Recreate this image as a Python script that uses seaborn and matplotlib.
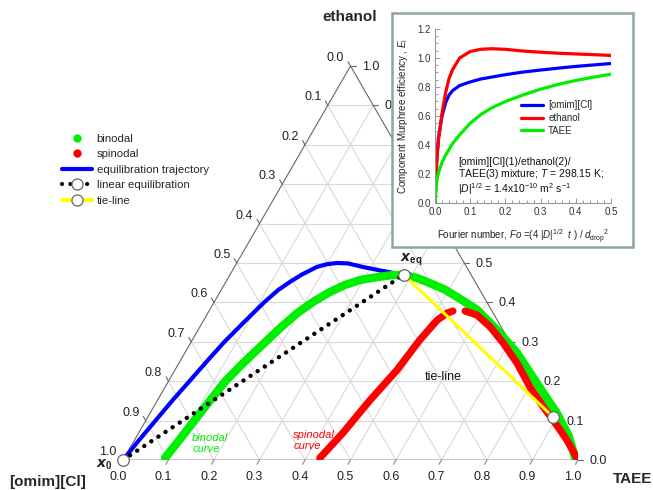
import numpy as np
import pandas as pd
import matplotlib
matplotlib.use("Agg")
import matplotlib.pyplot as plt
import seaborn as sns
from matplotlib.lines import Line2D
from matplotlib.patches import Rectangle

sns.set_style("white")
plt.rcParams["font.family"] = ["Liberation Sans", "DejaVu Sans"]
plt.rcParams["mathtext.fontset"] = "custom"
plt.rcParams["mathtext.rm"] = "Liberation Sans"
plt.rcParams["mathtext.it"] = "Liberation Sans:italic"
plt.rcParams["mathtext.bf"] = "Liberation Sans:bold"

# ---------------- data (ternary: TAEE fraction, ethanol fraction) ----------------
binodal_taee = [0.090, 0.100, 0.110, 0.125, 0.141, 0.160, 0.178, 0.196, 0.217, 0.240, 0.265,
                0.293, 0.326, 0.355, 0.380, 0.415, 0.450, 0.490, 0.527, 0.588, 0.657, 0.730,
                0.812, 0.894, 0.950, 0.995]
binodal_eth = [0.005, 0.060, 0.119, 0.200, 0.246, 0.292, 0.335, 0.372, 0.401, 0.425, 0.444,
               0.457, 0.464, 0.469, 0.470, 0.462, 0.449, 0.433, 0.414, 0.381, 0.330, 0.272,
               0.195, 0.119, 0.060, 0.000]

spin_left_taee = [0.430, 0.449, 0.467, 0.488, 0.500, 0.513, 0.526, 0.536]
spin_left_eth = [0.005, 0.069, 0.152, 0.228, 0.305, 0.355, 0.373, 0.378]
spin_right_taee = [0.563, 0.594, 0.638, 0.687, 0.743, 0.802, 0.856, 0.894, 0.950, 0.995]
spin_right_eth = [0.378, 0.368, 0.338, 0.297, 0.246, 0.185, 0.135, 0.102, 0.051, 0.005]

traj_taee = [0.000, 0.010, 0.023, 0.034, 0.046, 0.059, 0.073, 0.091, 0.110, 0.125, 0.141,
             0.157, 0.181, 0.200, 0.220, 0.245, 0.282, 0.330, 0.382]
traj_eth = [0.000, 0.050, 0.107, 0.155, 0.200, 0.250, 0.300, 0.350, 0.400, 0.431, 0.452,
            0.470, 0.490, 0.497, 0.500, 0.499, 0.490, 0.480, 0.470]

x0_point = (0.0, 0.0)
xeq_point = (0.382, 0.470)
tie_end = (0.891, 0.109)

ticks = [0.0, 0.1, 0.2, 0.3, 0.4, 0.5, 0.6, 0.7, 0.8, 0.9, 1.0]
tick_labels = ["0.0", "0.1", "0.2", "0.3", "0.4", "0.5", "0.6", "0.7", "0.8", "0.9", "1.0"]

# inset data
fo = [0.0, 0.005, 0.01, 0.02, 0.03, 0.04, 0.05, 0.07, 0.1, 0.13, 0.16, 0.2, 0.25, 0.3,
      0.35, 0.4, 0.45, 0.5]
E_omim = [0.0, 0.30, 0.45, 0.60, 0.69, 0.745, 0.775, 0.81, 0.835, 0.855, 0.868, 0.885,
          0.903, 0.917, 0.930, 0.942, 0.952, 0.962]
E_ethanol = [0.0, 0.30, 0.44, 0.62, 0.76, 0.86, 0.92, 1.00, 1.045, 1.060, 1.064, 1.060,
             1.048, 1.040, 1.033, 1.028, 1.023, 1.018]
E_taee = [0.0, 0.15, 0.21, 0.28, 0.33, 0.37, 0.41, 0.47, 0.55, 0.61, 0.655, 0.70, 0.745,
          0.785, 0.818, 0.845, 0.868, 0.888]

GREEN = "#00ee00"
RED = "#ff0000"
BLUE = "#0000ff"
YELLOW = "#ffff00"

S3 = np.sqrt(3) / 2


def tern(t, e):
    t = np.asarray(t, dtype=float)
    e = np.asarray(e, dtype=float)
    return t + e / 2, e * S3


W, H = 653, 490
BOX = (392, 13, 633, 247)  # inset frame in pixels (left, top, right, bottom)
fig = plt.figure(figsize=(W / 100, H / 100), dpi=100)
ax = fig.add_axes([123 / W, 30 / H, 455 / W, 394 / H])
ax.set_xlim(0, 1)
ax.set_ylim(0, S3)
ax.axis("off")


def hidden_by_box(x, y):
    pxx = 123 + x * 455
    pyy = 460 - y * 455
    return BOX[0] + 12 < pxx < BOX[2] and BOX[1] < pyy < BOX[3]


# grid
for v in ticks[1:-1]:
    for (tt, ee) in [([v, v], [0, 1 - v]), ([0, 1 - v], [v, v]), ([1 - v, 0], [0, 1 - v])]:
        X, Y = tern(tt, ee)
        ax.plot(X, Y, color="#d9d9d9", lw=0.8, zorder=1)

# edges
X, Y = tern([0, 0], [0, 1]); ax.plot(X, Y, color="#666666", lw=0.8, zorder=2)
X, Y = tern([1, 0], [0, 1]); ax.plot(X, Y, color="#666666", lw=0.8, zorder=2)
X, Y = tern([0, 1], [0, 0]); ax.plot(X, Y, color="#bbbbbb", lw=1.2, zorder=2)

# ticks and labels
L = 5 / 455
px = 1 / 455
for v, lab in zip(ticks, tick_labels):
    # left axis: [omim][Cl] fraction v
    ex, ey = tern(0, 1 - v)
    ax.plot([ex, ex - 0.5 * L], [ey, ey + S3 * L], color="#666666", lw=0.8, clip_on=False)
    ax.text(ex - 15 * px, ey + 8 * px, lab, ha="center", va="center", fontsize=9, color="#222222")
    # right axis: ethanol fraction v
    ex, ey = tern(1 - v, v)
    ax.plot([ex, ex + L], [ey, ey], color="#666666", lw=0.8, clip_on=False)
    if not hidden_by_box(ex + 20 * px, ey - 1 * px):
        ax.text(ex + 20 * px, ey - 1 * px, lab, ha="center", va="center", fontsize=9,
                color="#222222")
    # bottom axis: TAEE fraction v
    ex, ey = tern(v, 0)
    ax.plot([ex, ex - 0.5 * L], [ey, ey - S3 * L], color="#888888", lw=0.8, clip_on=False)
    ax.text(ex - 5 * px, ey - 17 * px, lab, ha="center", va="center", fontsize=9, color="#222222")

# curves
X, Y = tern(traj_taee, traj_eth)
sns.lineplot(x=X, y=Y, sort=False, estimator=None, color=BLUE, linewidth=3, ax=ax,
             solid_capstyle="round", solid_joinstyle="round", zorder=4)
X, Y = tern(binodal_taee, binodal_eth)
sns.lineplot(x=X, y=Y, sort=False, estimator=None, color=GREEN, linewidth=6, ax=ax,
             solid_capstyle="round", solid_joinstyle="round", zorder=5)
X, Y = tern(spin_left_taee, spin_left_eth)
sns.lineplot(x=X, y=Y, sort=False, estimator=None, color=RED, linewidth=5.2, ax=ax,
             solid_capstyle="round", solid_joinstyle="round", zorder=6)
X, Y = tern(spin_right_taee, spin_right_eth)
sns.lineplot(x=X, y=Y, sort=False, estimator=None, color=RED, linewidth=5.2, ax=ax,
             solid_capstyle="round", solid_joinstyle="round", zorder=6)

# linear equilibration (dotted)
X, Y = tern([x0_point[0], xeq_point[0]], [x0_point[1], xeq_point[1]])
ax.plot(X, Y, color="black", lw=3.2, linestyle=(0, (0.01, 1.9)), dash_capstyle="round", zorder=7)

# tie-line
X, Y = tern([xeq_point[0], tie_end[0]], [xeq_point[1], tie_end[1]])
sns.lineplot(x=X, y=Y, sort=False, estimator=None, color=YELLOW, linewidth=2.2, ax=ax, zorder=8)

# circles
ct = [x0_point[0], xeq_point[0], tie_end[0]]
ce = [x0_point[1], xeq_point[1], tie_end[1]]
X, Y = tern(ct, ce)
sns.scatterplot(x=X, y=Y, ax=ax, marker="o", s=70, color="white", edgecolor="#666666",
                linewidth=0.9, zorder=9, clip_on=False)

# annotations
ax.text(0.499, 0.974, "ethanol", ha="center", va="center", fontsize=11, fontweight="bold")
ax.text(-0.165, -0.048, "[omim][Cl]", ha="center", va="center", fontsize=11, fontweight="bold")
ax.text(1.119, -0.042, "TAEE", ha="center", va="center", fontsize=11, fontweight="bold")
ax.text(-0.040, -0.011, r"$\mathbfit{x}_\mathbf{0}$", ha="center", va="center", fontsize=10)
ax.text(0.633, 0.440, r"$\mathbfit{x}_\mathbf{eq}$", ha="center", va="center", fontsize=10)
ax.text(0.152, 0.036, "binodal\ncurve", ha="left", va="center", fontsize=8, style="italic",
        color=GREEN, linespacing=1.1)
ax.text(0.374, 0.042, "spinodal\ncurve", ha="left", va="center", fontsize=8, style="italic",
        color=RED, linespacing=1.1)
ax.text(0.703, 0.182, "tie-line", ha="center", va="center", fontsize=9, color="#111111")

# main legend
handles = [
    Line2D([], [], ls="none", marker="o", color=GREEN, ms=5),
    Line2D([], [], ls="none", marker="o", color=RED, ms=5),
    Line2D([], [], color=BLUE, lw=3),
    Line2D([], [], color="black", lw=3.0, ls=(0, (0.01, 2.0)), dash_capstyle="round",
           marker="o", mfc="white", mec="#666666", ms=8, mew=0.9),
    Line2D([], [], color=YELLOW, lw=3, marker="o", mfc="white", mec="#666666", ms=8, mew=0.9),
]
labels = ["binodal", "spinodal", "equilibration trajectory", "linear equilibration", "tie-line"]
fig.legend(handles, labels, loc="upper left", bbox_to_anchor=(62 / W, 1 - 134 / H),
           frameon=False, fontsize=8.2, handlelength=2.6, handletextpad=0.45,
           labelspacing=0.48, borderpad=0, borderaxespad=0, numpoints=1)

# ---------------- inset ----------------
box = Rectangle((BOX[0] / W, 1 - BOX[3] / H), (BOX[2] - BOX[0]) / W, (BOX[3] - BOX[1]) / H,
                transform=fig.transFigure, facecolor="white", edgecolor="#8fa4a8",
                linewidth=1.8, zorder=5)
fig.patches.append(box)

iax = fig.add_axes([435 / W, 1 - 203 / H, 176 / W, 174 / H], zorder=10)
iax.patch.set_alpha(0)
df = pd.DataFrame({"Fo": fo * 3,
                   "E": E_omim + E_ethanol + E_taee,
                   "comp": ["[omim][Cl]"] * len(fo) + ["ethanol"] * len(fo) + ["TAEE"] * len(fo)})
sns.lineplot(data=df, x="Fo", y="E", hue="comp", sort=False, estimator=None,
             palette={"[omim][Cl]": BLUE, "ethanol": RED, "TAEE": GREEN},
             linewidth=2.3, ax=iax, legend=False)
iax.set_xlim(0, 0.5)
iax.set_ylim(0, 1.2)
iax.set_xticks([0, 0.1, 0.2, 0.3, 0.4, 0.5])
iax.set_xticklabels(["0.0", "0.1", "0.2", "0.3", "0.4", "0.5"])
iax.set_yticks([0, 0.2, 0.4, 0.6, 0.8, 1.0, 1.2])
iax.set_yticklabels(["0.0", "0.2", "0.4", "0.6", "0.8", "1.0", "1.2"])
iax.set_xticks(np.arange(0, 0.5001, 0.02), minor=True)
iax.set_yticks(np.arange(0, 1.2001, 0.05), minor=True)
for s in ["top", "right"]:
    iax.spines[s].set_visible(False)
for s in ["left", "bottom"]:
    iax.spines[s].set_color("#999999")
    iax.spines[s].set_linewidth(0.8)
iax.tick_params(which="both", direction="in", colors="#999999", labelcolor="#333333",
                labelsize=7, width=0.7)
iax.tick_params(which="major", length=3.5, pad=3)
iax.tick_params(which="minor", length=2)
iax.tick_params(axis="both", which="both", left=True, bottom=True)
iax.set_xlabel(r"Fourier number, $\mathit{Fo}$ =(4 |$\mathit{D}$|$^{1/2}$  $\mathit{t}$ ) / $\mathit{d}_\mathrm{drop}$$^{2}$",
               fontsize=7, color="#222222")
iax.set_ylabel(r"Component Murphree efficiency , $\mathit{E}_\mathrm{i}$", fontsize=7, color="#222222")
iax.xaxis.set_label_coords(0.5, -0.145)
iax.yaxis.set_label_coords(-0.14, 0.5)

ih = [Line2D([], [], color=BLUE, lw=2.3), Line2D([], [], color=RED, lw=2.3),
      Line2D([], [], color=GREEN, lw=2.3)]
fig.legend(ih, ["[omim][Cl]", "ethanol", "TAEE"], loc="upper left",
           bbox_to_anchor=(521 / W, 1 - 100 / H), frameon=False, fontsize=7,
           handlelength=2.3, handletextpad=0.5, labelspacing=0.3, borderpad=0,
           borderaxespad=0).set_zorder(11)

fig.text(458 / W, 1 - 157 / H,
         "[omim][Cl](1)/ethanol(2)/\nTAEE(3) mixture; $\\mathit{T}$ = 298.15 K;\n"
         "|$\\mathit{D}$|$^{1/2}$ = 1.4x10$^{-10}$ m$^{2}$ s$^{-1}$",
         ha="left", va="top", fontsize=7.5, linespacing=1.0, color="#111111", zorder=12)

fig.savefig("out.png", dpi=100)
